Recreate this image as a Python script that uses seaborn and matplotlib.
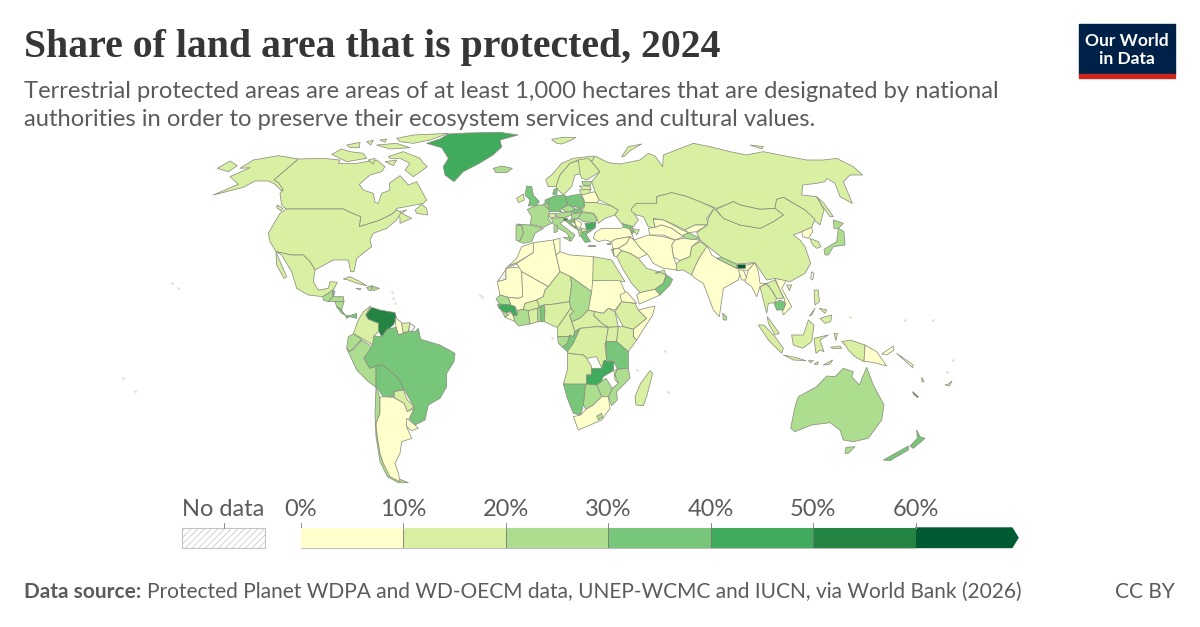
#!/usr/bin/env python
# coding: utf-8

import matplotlib
matplotlib.use("Agg")
import matplotlib.pyplot as plt
import numpy as np
import seaborn as sns

# legend
bin_edges = [0, 10, 20, 30, 40, 50, 60]
bin_labels = ["0%", "10%", "20%", "30%", "40%", "50%", "60%"]
bin_colors = ["#ffffcc", "#d9f0a3", "#addd8e", "#78c679", "#41ab5d", "#238443", "#005a32"]

# country outlines, each group in its own local units
# (3 units = 1 pixel, from the group's origin). share None = no data
americas_origin = (200, 125)
americas = [
    ("Alaska", 14, [(295,102),(222,165),(235,172),(250,190),(245,198),(225,178),(205,168),(165,168),(130,187),(40,210),(115,178),(90,155),(150,128),(120,130),(160,105),(235,92)]),
    ("Chukotka tip", 14, [(52,130),(90,108),(112,122),(85,140)]),
    ("Canada", 13, [(295,102),(370,100),(420,105),(415,115),(470,115),(500,110),(530,105),(555,125),(545,140),(510,150),(478,178),(490,195),(520,205),(525,232),(535,235),(545,205),(570,195),(568,175),(600,152),(625,180),(650,170),(680,225),(670,235),(620,245),(590,250),(585,262),(570,270),(540,285),(510,295),(478,305),(482,275),(450,262),(430,252),(258,252),(245,240),(240,205),(250,195),(235,172),(222,165)]),
    ("Vancouver", 13, [(232,240),(248,250),(244,258),(230,248)]),
    ("Baffin", 13, [(565,95),(610,80),(660,100),(668,112),(682,125),(640,155),(615,135),(630,115),(600,100),(570,100)]),
    ("Victoria", 13, [(395,88),(425,72),(450,80),(490,85),(500,100),(440,110),(420,100)]),
    ("Banks", 13, [(440,60),(480,52),(478,68),(450,68)]),
    ("Ellesmere", 13, [(590,40),(640,30),(745,25),(690,45),(640,55),(600,50)]),
    ("Devon", 13, [(530,60),(590,55),(630,68),(570,72)]),
    ("Southampton", 13, [(555,110),(590,105),(580,122)]),
    ("Arctic a", 13, [(500,50),(520,46),(512,60)]),
    ("Arctic b", 13, [(540,45),(560,42),(555,52)]),
    ("Arctic c", 13, [(505,105),(525,100),(520,118)]),
    ("Newfoundland", 13, [(645,255),(665,238),(680,250),(683,270),(650,265)]),
    ("Nova Scotia", 13, [(590,262),(620,255),(605,265),(635,280),(600,295),(600,280)]),
    ("United States", 14, [(245,262),(258,252),(430,252),(450,262),(482,275),(478,305),(510,295),(540,285),(575,268),(590,255),(603,262),(590,285),(560,310),(520,325),(510,345),(515,365),(470,400),(462,440),(452,440),(445,405),(400,405),(345,435),(330,410),(310,390),(275,390),(228,380),(210,350),(205,325),(225,290),(240,265)]),
    ("Mexico", 14, [(228,380),(275,390),(310,390),(330,410),(345,435),(340,470),(355,495),(385,490),(390,470),(412,472),(400,495),(385,505),(368,515),(325,510),(290,490),(275,440),(245,390)]),
    ("Baja", 14, [(228,382),(245,420),(260,455),(252,460),(230,420)]),
    ("Greenland", 45, [(680,55),(720,42),(745,27),(800,24),(900,22),(954,30),(900,45),(905,66),(879,90),(840,114),(790,140),(762,170),(735,150),(730,125),(745,100),(725,68)]),
    ("Guatemala", 25, [(368,515),(385,505),(398,495),(398,515),(385,530),(370,525)]),
    ("Belize", 35, [(398,495),(405,500),(400,515)]),
    ("Honduras", 25, [(385,530),(398,515),(430,515),(432,530),(405,530)]),
    ("Nicaragua", 25, [(405,530),(432,530),(425,555),(410,545)]),
    ("Costa Rica", 30, [(410,545),(425,555),(435,570),(425,565)]),
    ("Panama", 35, [(435,570),(450,572),(470,565),(470,580),(450,575),(440,580)]),
    ("Cuba", 15, [(430,462),(450,455),(480,470),(500,482),(470,475),(445,465)]),
    ("Haiti", 25, [(500,487),(515,482),(515,497),(505,495)]),
    ("Dominican Republic", 25, [(515,482),(538,490),(520,497)]),
    ("Jamaica", 15, [(468,490),(482,490),(480,495)]),
]

south_america_origin = (300, 290)
south_america = [
    ("Venezuela", 55, [(197,75),(215,52),(240,60),(285,68),(290,85),(280,105),(262,120),(245,140),(235,122),(235,100),(205,88)]),
    ("Colombia", 15, [(160,130),(175,90),(190,65),(212,48),(197,75),(205,88),(235,100),(235,125),(222,138),(218,165),(185,145)]),
    ("Guyana", 8, [(285,82),(305,98),(310,130),(295,135),(288,110)]),
    ("Suriname", 15, [(305,100),(330,98),(325,125),(310,128)]),
    ("French Guiana", None, [(330,100),(345,110),(335,125),(326,122)]),
    ("Ecuador", 25, [(140,175),(145,140),(160,132),(185,148),(160,175),(148,185)]),
    ("Peru", 25, [(140,175),(148,185),(160,178),(185,150),(218,172),(192,205),(210,235),(228,228),(228,292),(205,275),(170,240)]),
    ("Brazil", 35, [(218,165),(222,138),(245,140),(262,118),(288,112),(295,135),(325,125),(345,125),(355,115),(362,148),(420,165),(465,190),(462,215),(440,250),(440,290),(420,325),(385,345),(375,390),(345,405),(328,385),(342,350),(312,298),(295,265),(245,225),(228,228),(210,235),(192,205)]),
    ("Bolivia", 35, [(228,228),(248,225),(295,265),(312,298),(282,305),(280,320),(250,320),(232,295),(228,290)]),
    ("Paraguay", 15, [(282,305),(310,300),(322,330),(342,350),(322,365),(312,340),(285,325)]),
    ("Chile", 25, [(228,292),(240,322),(240,370),(228,400),(232,440),(240,490),(250,520),(280,560),(325,578),(295,578),(262,560),(240,515),(228,440),(225,370)]),
    ("Argentina", 8, [(250,320),(280,322),(312,340),(322,365),(342,355),(328,385),(320,410),(335,445),(305,455),(300,490),(285,520),(295,550),(300,575),(270,560),(250,520),(240,490),(232,440),(228,400),(240,370),(240,322)]),
    ("Uruguay", 8, [(320,385),(345,405),(355,415),(335,422),(320,410)]),
]

europe_origin = (480, 130)
europe = [
    ("Iceland", 25, [(40,115),(65,108),(97,115),(80,128),(48,128)]),
    ("Svalbard", 15, [(215,28),(250,22),(288,22),(275,30),(245,42),(230,40)]),
    ("Novaya Zemlya", 15, [(425,80),(445,50),(485,42),(450,62),(432,80)]),
    ("Ireland", 15, [(110,205),(130,192),(133,210),(115,218)]),
    ("United Kingdom", 30, [(135,195),(140,168),(155,170),(160,195),(178,215),(170,225),(145,228),(150,210)]),
    ("Norway", 15, [(197,148),(215,135),(245,100),(280,85),(340,78),(340,92),(295,90),(270,100),(240,135),(228,170),(205,170)]),
    ("Sweden", 15, [(240,135),(270,100),(295,92),(308,130),(285,135),(275,170),(250,195),(235,180),(228,170)]),
    ("Finland", 15, [(295,90),(325,85),(335,95),(360,125),(320,150),(305,145),(300,130)]),
    ("Denmark", 35, [(222,178),(232,175),(230,195),(218,192)]),
    ("Estonia", 25, [(305,155),(335,155),(330,168),(310,165)]),
    ("Latvia", 18, [(298,168),(330,168),(333,178),(310,180)]),
    ("Lithuania", 18, [(298,180),(333,178),(325,192),(305,195)]),
    ("Belarus", 8, [(305,195),(325,190),(345,185),(358,210),(350,218),(315,218),(310,205)]),
    ("Poland", 38, [(258,200),(300,192),(310,210),(315,225),(305,235),(262,225)]),
    ("Germany", 38, [(208,205),(222,198),(255,195),(262,225),(240,240),(245,245),(210,245),(205,225)]),
    ("Netherlands", 30, [(195,210),(208,205),(205,222),(195,222)]),
    ("Belgium", 25, [(190,222),(205,222),(208,235),(195,232)]),
    ("France", 28, [(142,238),(160,230),(175,225),(190,225),(210,240),(205,265),(215,280),(190,292),(165,285),(150,285),(155,260)]),
    ("Switzerland", 12, [(205,252),(225,250),(228,260),(212,265)]),
    ("Austria", 28, [(225,252),(245,248),(275,245),(275,255),(250,265),(230,260)]),
    ("Czechia", 22, [(245,235),(265,225),(285,235),(275,245),(255,245)]),
    ("Slovakia", 35, [(280,238),(305,235),(305,245),(285,250),(275,245)]),
    ("Hungary", 22, [(275,252),(305,248),(295,265),(275,268)]),
    ("Ukraine", 15, [(310,218),(350,218),(395,228),(415,240),(405,255),(375,265),(355,280),(350,262),(340,250),(305,245),(315,225)]),
    ("Romania", 25, [(305,248),(340,250),(350,270),(345,278),(310,275),(295,265)]),
    ("Bulgaria", 42, [(315,280),(348,278),(345,295),(320,300)]),
    ("Italy", 22, [(215,265),(250,262),(255,270),(240,280),(265,300),(285,315),(272,335),(262,310),(235,295),(218,280)]),
    ("Sardinia", 22, [(222,288),(232,285),(232,305),(222,308)]),
    ("Sicily", 22, [(250,322),(272,322),(268,332)]),
    ("Slovenia", 55, [(250,265),(262,265),(263,272),(252,272)]),
    ("Croatia", 30, [(255,272),(285,268),(285,280),(275,275),(295,300),(285,295)]),
    ("Serbia", 8, [(285,265),(305,280),(300,295),(290,290),(285,280)]),
    ("Bosnia", 5, [(270,272),(285,280),(288,292),(278,285)]),
    ("Albania", 25, [(293,298),(303,298),(310,320),(300,320)]),
    ("North Macedonia", 15, [(303,295),(320,298),(318,305),(306,307)]),
    ("Greece", 35, [(306,307),(340,298),(318,313),(332,335),(315,337),(305,322)]),
    ("Crete", 35, [(325,344),(345,344),(345,348),(325,348)]),
    ("Cyprus", 35, [(380,342),(392,338),(390,345)]),
    ("Spain", 28, [(110,282),(150,285),(190,295),(165,310),(155,335),(130,340),(118,335),(130,310),(125,287)]),
    ("Portugal", 22, [(108,285),(125,287),(130,310),(118,335),(108,330)]),
    ("Turkey", 8, [(345,308),(365,295),(420,295),(450,288),(455,310),(462,330),(450,320),(405,328),(395,335),(375,330),(355,335),(340,325)]),
    ("Georgia", 30, [(425,280),(460,290),(450,298),(430,290)]),
    ("Armenia", 38, [(450,298),(465,305),(455,312)]),
    ("Azerbaijan", 15, [(455,295),(478,300),(470,315),(465,305)]),
    ("Syria", 5, [(395,335),(405,328),(450,320),(440,340),(415,355),(398,355)]),
    ("Iraq", 5, [(440,340),(450,320),(462,330),(482,355),(502,372),(490,378),(475,385),(450,370),(425,362),(415,355)]),
    ("Jordan", 5, [(400,358),(415,355),(425,362),(410,380),(402,378)]),
    ("Israel", 25, [(394,358),(400,358),(402,378)]),
]

asia_origin = (620, 140)
asia = [
    ("Russia", 15, [(-75,48),(-35,68),(0,72),(60,60),(85,40),(105,48),(128,80),(130,45),(220,10),(270,20),(330,35),(380,45),(430,35),(480,45),(560,60),(610,60),(650,55),(700,80),(728,105),(690,105),(670,125),(697,190),(660,170),(645,130),(620,115),(615,125),(590,130),(548,135),(545,165),(590,170),(612,210),(600,255),(582,240),(555,210),(490,172),(470,178),(465,205),(420,208),(360,195),(340,185),(290,205),(240,185),(195,168),(155,158),(110,170),(110,190),(50,190),(35,205),(45,225),(55,240),(40,260),(5,250),(-15,225),(-5,210),(-25,198),(-62,180),(-75,155),(-85,125),(-60,95),(-85,65)]),
    ("Sakhalin", 15, [(590,170),(612,190),(640,230),(630,230),(605,195)]),
    ("Wrangel", 15, [(390,15),(430,20),(425,27)]),
    ("Kazakhstan", 15, [(35,205),(50,190),(110,190),(110,170),(155,158),(195,168),(240,185),(283,205),(260,235),(265,255),(225,255),(195,270),(165,255),(130,240),(100,235),(105,265),(85,260),(70,230),(50,225),(35,215)]),
    ("Uzbekistan", 6, [(100,238),(130,240),(165,258),(190,272),(205,275),(190,290),(155,265),(125,255),(105,262)]),
    ("Turkmenistan", 6, [(85,265),(105,262),(125,255),(155,265),(190,290),(165,300),(130,285),(90,285)]),
    ("Kyrgyzstan", 7, [(195,270),(225,255),(262,255),(230,275),(205,278)]),
    ("Tajikistan", 25, [(190,285),(207,278),(240,295),(220,298),(195,298)]),
    ("Afghanistan", 4, [(155,315),(165,300),(190,295),(215,298),(240,300),(215,320),(210,350),(180,362),(160,350)]),
    ("Iran", 7, [(42,300),(85,285),(130,290),(165,300),(155,315),(160,350),(175,390),(130,385),(100,370),(82,342),(62,325)]),
    ("Pakistan", 13, [(170,370),(180,362),(210,350),(215,320),(240,305),(262,320),(240,350),(225,380),(215,405),(190,390),(170,392)]),
    ("India", 7, [(262,318),(275,345),(290,355),(350,385),(405,368),(385,390),(362,395),(355,420),(310,445),(298,530),(280,510),(250,430),(225,415),(215,405),(225,380),(240,350)]),
    ("Nepal", 25, [(290,355),(305,352),(350,372),(350,385)]),
    ("Bhutan", 65, [(352,372),(375,372),(375,383),(352,383)]),
    ("Bangladesh", 5, [(355,390),(370,390),(382,420),(365,420)]),
    ("Myanmar", 7, [(385,390),(405,368),(415,395),(420,430),(440,430),(420,440),(410,470),(395,440),(375,425)]),
    ("Thailand", 15, [(420,440),(440,432),(455,450),(470,475),(465,488),(445,490),(440,520),(430,480)]),
    ("Laos", 15, [(440,430),(465,420),(480,450),(490,475),(470,475),(455,450)]),
    ("Vietnam", 8, [(465,415),(500,420),(485,445),(515,500),(490,525),(485,505),(495,480),(480,450)]),
    ("Cambodia", 38, [(462,490),(480,480),(498,490),(490,510),(470,510)]),
    ("China", 15, [(283,205),(310,235),(360,255),(420,265),(460,245),(490,225),(465,205),(470,178),(490,172),(555,210),(585,238),(575,262),(545,275),(520,285),(540,300),(555,320),(572,370),(555,400),(510,425),(465,415),(440,420),(405,368),(350,372),(305,352),(262,318),(240,300),(230,278),(262,255),(265,235)]),
    ("Mongolia", 18, [(288,208),(340,185),(360,195),(420,208),(465,205),(490,225),(460,245),(420,265),(360,255),(310,235)]),
    ("North Korea", 3, [(545,275),(575,262),(578,275),(565,295),(548,290)]),
    ("South Korea", 17, [(570,295),(595,305),(603,320),(590,325),(578,315)]),
    ("Honshu", 22, [(612,328),(650,305),(655,265),(672,275),(675,315),(640,320),(625,345),(615,345)]),
    ("Hokkaido", 22, [(640,240),(670,250),(655,265),(642,265)]),
    ("Taiwan", None, [(575,395),(582,400),(578,420),(572,415)]),
    ("Hainan", 15, [(500,435),(515,435),(508,452)]),
    ("Sri Lanka", 28, [(308,520),(320,530),(320,540),(310,540)]),
]

africa_origin = (480, 240)
africa = [
    ("Morocco", 5, [(85,78),(110,55),(125,20),(160,8),(160,38),(110,68)]),
    ("Western Sahara", None, [(52,125),(85,78),(110,68),(110,72),(78,85),(78,118)]),
    ("Mauritania", 5, [(52,125),(78,118),(78,85),(125,80),(128,170),(115,175),(85,172),(60,165)]),
    ("Algeria", 8, [(160,8),(220,0),(228,45),(240,95),(205,140),(125,95),(110,70),(160,38)]),
    ("Tunisia", 5, [(220,0),(240,-5),(240,35),(228,45)]),
    ("Libya", 8, [(228,45),(240,35),(270,45),(340,50),(340,135),(335,155),(272,110),(240,95)]),
    ("Egypt", 15, [(340,50),(395,60),(435,125),(338,122)]),
    ("Mali", 8, [(125,95),(205,140),(195,150),(190,170),(170,180),(135,190),(130,208),(112,212),(105,200),(92,195),(85,172),(115,175),(128,170)]),
    ("Niger", 17, [(205,140),(240,95),(272,110),(275,135),(268,185),(225,192),(192,195),(178,200),(170,180),(190,170),(195,150)]),
    ("Chad", 25, [(272,110),(335,155),(325,210),(300,235),(275,245),(268,225),(280,215),(272,205),(268,185),(275,135)]),
    ("Sudan", 4, [(338,122),(420,122),(435,155),(465,190),(425,185),(405,210),(385,205),(370,220),(345,215),(325,210),(335,155)]),
    ("South Sudan", 15, [(345,215),(370,220),(385,205),(405,215),(415,260),(385,262),(365,250),(340,225)]),
    ("Ethiopia", 17, [(425,185),(465,190),(475,210),(500,235),(460,268),(430,260),(405,215)]),
    ("Eritrea", 5, [(420,165),(440,155),(470,190),(425,185)]),
    ("Somalia", 4, [(525,198),(518,225),(470,300),(460,290),(460,268),(500,235),(475,210)]),
    ("Senegal", 25, [(48,178),(60,165),(85,172),(92,195),(60,192)]),
    ("Guinea-Bissau", 30, [(52,192),(62,193),(65,205),(56,203)]),
    ("Guinea", 42, [(56,203),(62,193),(92,195),(105,200),(112,225),(100,228),(92,215),(78,218),(65,212)]),
    ("Sierra Leone", 28, [(65,212),(78,218),(85,225),(75,232)]),
    ("Liberia", 5, [(75,232),(85,225),(92,215),(100,228),(105,245),(95,240)]),
    ("Ivory Coast", 25, [(100,228),(112,225),(112,212),(130,208),(145,212),(150,252),(115,258),(105,245)]),
    ("Burkina Faso", 18, [(135,190),(170,180),(178,200),(172,205),(145,212),(130,208)]),
    ("Ghana", 15, [(145,212),(172,205),(174,245),(150,252)]),
    ("Togo", 25, [(172,205),(180,203),(183,245),(174,245)]),
    ("Benin", 30, [(180,203),(178,200),(192,195),(195,210),(193,245),(183,245)]),
    ("Nigeria", 15, [(192,195),(225,192),(268,185),(272,205),(248,240),(232,262),(225,260),(193,245),(195,210)]),
    ("Cameroon", 15, [(232,262),(248,240),(272,205),(280,215),(268,225),(275,245),(285,275),(280,290),(233,290)]),
    ("Central African Republic", 17, [(275,245),(300,235),(325,210),(345,215),(340,225),(365,250),(385,262),(350,260),(300,265),(285,275)]),
    ("Gabon", 28, [(233,290),(268,290),(270,285),(262,310),(248,322),(235,310)]),
    ("Congo", 38, [(300,265),(280,310),(262,335),(248,322),(262,310),(270,285),(280,290),(285,275)]),
    ("Democratic Republic of Congo", 15, [(300,265),(350,260),(385,262),(378,305),(375,320),(380,360),(372,362),(365,385),(350,350),(320,355),(310,345),(265,340),(262,335),(280,310)]),
    ("Uganda", 17, [(385,262),(415,260),(410,305),(378,305)]),
    ("Kenya", 13, [(415,260),(430,260),(460,268),(460,290),(470,300),(445,335),(410,305)]),
    ("Burundi", 30, [(375,310),(385,312),(385,325),(378,325)]),
    ("Tanzania", 38, [(378,305),(410,305),(445,335),(445,385),(412,388),(402,365),(380,360)]),
    ("Angola", 15, [(262,340),(310,345),(320,355),(335,380),(335,405),(320,405),(320,435),(250,432),(262,390)]),
    ("Zambia", 42, [(335,385),(365,385),(372,362),(402,365),(400,392),(370,410),(360,435),(320,435),(320,405),(335,405)]),
    ("Malawi", 18, [(402,392),(412,388),(405,405),(418,425),(415,430),(405,420)]),
    ("Mozambique", 25, [(445,385),(450,415),(410,455),(412,480),(395,497),(385,470),(397,445),(415,430),(405,405),(412,388)]),
    ("Zimbabwe", 28, [(350,435),(378,415),(397,445),(385,470),(365,470)]),
    ("Botswana", 28, [(318,432),(350,435),(365,470),(340,495),(318,508),(310,495),(315,443)]),
    ("Namibia", 38, [(250,432),(318,432),(315,443),(310,495),(302,525),(280,520),(262,475)]),
    ("South Africa", 8, [(302,525),(318,508),(340,495),(365,470),(385,470),(390,505),(365,540),(295,570),(280,530)]),
    ("Lesotho", 25, [(350,528),(365,520),(368,532),(355,540)]),
    ("Madagascar", 15, [(510,392),(518,400),(500,470),(490,497),(468,495),(465,470),(482,430)]),
    ("Saudi Arabia", 15, [(410,50),(425,32),(450,40),(475,55),(500,85),(545,98),(558,105),(550,130),(525,148),(480,158),(455,130),(430,90)]),
    ("Oman", 30, [(560,105),(578,118),(570,135),(540,165),(525,148),(550,130)]),
    ("Yemen", 5, [(470,165),(480,158),(525,148),(540,165),(495,185),(478,192)]),
    ("UAE", 15, [(525,100),(552,90),(558,105),(545,98)]),
]

oceania_origin = (740, 270)
oceania = [
    ("Peninsular Malaysia", 15, [(82,140),(100,165),(118,190),(105,195),(85,160)]),
    ("Sumatra", 15, [(55,165),(72,165),(105,200),(130,235),(125,250),(85,210)]),
    ("Java", 15, [(130,255),(165,262),(198,272),(160,270)]),
    ("Borneo", 15, [(155,195),(190,195),(205,150),(222,165),(215,215),(188,235),(160,225)]),
    ("Sulawesi", 15, [(222,205),(265,195),(240,210),(252,245),(240,240),(228,250)]),
    ("Luzon", 15, [(222,60),(235,60),(238,95),(225,105)]),
    ("Mindanao", 15, [(240,145),(275,135),(272,155),(255,160)]),
    ("Visayas", 15, [(238,115),(260,120),(255,130)]),
    ("Palawan", 15, [(208,138),(225,115),(215,135)]),
    ("Halmahera", 15, [(282,190),(292,190),(288,212)]),
    ("Seram", 15, [(272,232),(300,228),(305,235),(280,236)]),
    ("Flores", 15, [(205,272),(220,272),(212,278)]),
    ("Sumba", 15, [(222,282),(235,275),(232,284)]),
    ("Timor", 15, [(250,285),(278,270),(270,282)]),
    ("Indonesian Papua", 15, [(305,215),(330,210),(375,225),(372,275),(345,260),(325,240),(318,228)]),
    ("Papua New Guinea", 5, [(375,225),(410,245),(440,288),(410,280),(385,275),(372,275)]),
    ("New Britain", 5, [(425,252),(460,228),(462,240),(440,255)]),
    ("Solomon Islands", 5, [(470,250),(520,285),(518,293)]),
    ("Australia", 25, [(152,475),(165,410),(175,380),(230,350),(260,318),(285,320),(310,295),(340,305),(335,320),(358,345),(380,292),(400,345),(432,405),(425,450),(385,505),(340,515),(310,510),(300,480),(270,458),(215,465),(165,485)]),
    ("Tasmania", 25, [(318,532),(345,530),(325,550),(315,550)]),
    ("New Zealand South", 35, [(430,570),(505,528),(505,540),(450,572)]),
    ("New Zealand North", 35, [(510,528),(532,505),(530,480),(540,500),(555,505),(520,535)]),
    ("New Caledonia", 58, [(518,365),(535,380),(533,383),(520,372)]),
    ("Vanuatu", 15, [(545,322),(552,335),(546,336)]),
    ("Fiji", 15, [(615,345),(625,342),(636,333),(628,348)]),
]

map_groups = [
    (americas_origin, americas),
    (south_america_origin, south_america),
    (europe_origin, europe),
    (asia_origin, asia),
    (africa_origin, africa),
    (oceania_origin, oceania),
]

# tiny islands, drawn as dots (x, y on the page)
island_x = [172, 178, 123, 135, 392, 393, 395, 480, 482, 552, 637, 665, 668, 850, 905, 933, 953, 947]
island_y = [283, 288, 378, 391, 292, 298, 303, 295, 297, 338, 370, 351, 392, 317, 320, 320, 360, 372]

title = "Share of land area that is protected, 2024"
subtitle = ["Terrestrial protected areas are areas of at least 1,000 hectares that are designated by national",
            "authorities in order to preserve their ecosystem services and cultural values."]
source_bold = "Data source:"
source_text = "Protected Planet WDPA and WD-OECM data, UNEP-WCMC and IUCN, via World Bank (2026)"

sns.set_theme(style="white")
plt.rcParams["font.family"] = ["Lato", "DejaVu Sans"]
plt.rcParams["hatch.linewidth"] = 0.5
palette = sns.color_palette(bin_colors)
grey = "#5b5b5b"


def share_color(share):
    if share is None:
        return "#f4f4f4"
    return palette[np.digitize(share, bin_edges) - 1]


fig = plt.figure(figsize=(12, 6.27), dpi=100)
ax = fig.add_axes([0, 0, 1, 1])
ax.set_xlim(0, 1200)
ax.set_ylim(627, 0)
ax.axis("off")

for origin, shapes in map_groups:
    for name, share, outline in shapes:
        pts = np.array(outline, dtype=float) / 3 + origin
        ax.fill(pts[:, 0], pts[:, 1], facecolor=share_color(share), edgecolor="#8c8f80",
                linewidth=0.55, joinstyle="round", zorder=2)

sns.scatterplot(x=island_x, y=island_y, s=2, color="#dfe6c8", edgecolor="#c2c6b4", linewidth=0.2, ax=ax, zorder=2)

# header
ax.text(24, 47, title, fontsize=28.6, fontweight="bold", family=["Liberation Serif"], color="#363636", va="center")
ax.text(24, 91, subtitle[0], fontsize=17.15, color=grey, va="center")
ax.text(24, 119.5, subtitle[1], fontsize=17.15, color=grey, va="center")

# logo
ax.fill([1079, 1175, 1175, 1079], [24, 24, 74, 74], color="#002147", zorder=3)
ax.fill([1079, 1175, 1175, 1079], [74, 74, 78, 78], color="#ce261e", zorder=3)
ax.text(1127, 41, "Our World", fontsize=12.5, fontweight="bold", color="white", ha="center", va="center", zorder=4)
ax.text(1127, 59, "in Data", fontsize=12.5, fontweight="bold", color="white", ha="center", va="center", zorder=4)

# legend: six bins as a heatmap strip, the open-ended one as an arrow
bar_left, bar_right, bar_top, bar_bottom = 301, 915.5, 528, 547.5
ax_bar = fig.add_axes([bar_left / 1200, 1 - bar_bottom / 627, (bar_right - bar_left) / 1200, (bar_bottom - bar_top) / 627])
sns.heatmap(np.array([bin_edges[:6]]), cmap=bin_colors[:6], cbar=False, xticklabels=False, yticklabels=False, ax=ax_bar)
ax_bar.vlines(range(1, 6), 0, 1, color="#777777", lw=0.6)
ax_bar.axis("off")
ax.fill([bar_right, 1012, 1018, 1012, bar_right], [bar_top, bar_top, (bar_top + bar_bottom) / 2, bar_bottom, bar_bottom],
        color=bin_colors[6], zorder=2)
ticks = np.linspace(bar_left, bar_right, 7)
for tick, label in zip(ticks, bin_labels):
    ax.plot([tick, tick], [523, bar_top], color="#8a8a8a", lw=0.7, zorder=6)
    ax.text(tick, 510, label, fontsize=17, color=grey, ha="center", va="center")
ax.plot([bar_left, bar_right], [bar_top, bar_top], color="#bdbdbd", lw=0.8, zorder=6)
ax.plot([bar_left, bar_right], [bar_bottom, bar_bottom], color="#bdbdbd", lw=0.8, zorder=6)

# no data box
ax.fill([182, 265, 265, 182], [528, 528, 548, 548], facecolor="white", edgecolor="#c4c4c4", hatch="/////", lw=0.8)
ax.plot([223.5, 223.5], [523, 528], color="#8a8a8a", lw=0.7)
ax.text(223.5, 510, "No data", fontsize=17, color=grey, ha="center", va="center")

# footer
label = ax.text(24, 592, source_bold, fontsize=15.05, fontweight="bold", color=grey, va="center")
fig.canvas.draw()
end_x = ax.transData.inverted().transform(label.get_window_extent().get_points())[1, 0]
ax.text(end_x + 6, 592, source_text, fontsize=15.05, color=grey, va="center")
ax.text(1175, 592, "CC BY", fontsize=15, color=grey, ha="right", va="center")

fig.savefig("out.png", dpi=100, facecolor="white")
